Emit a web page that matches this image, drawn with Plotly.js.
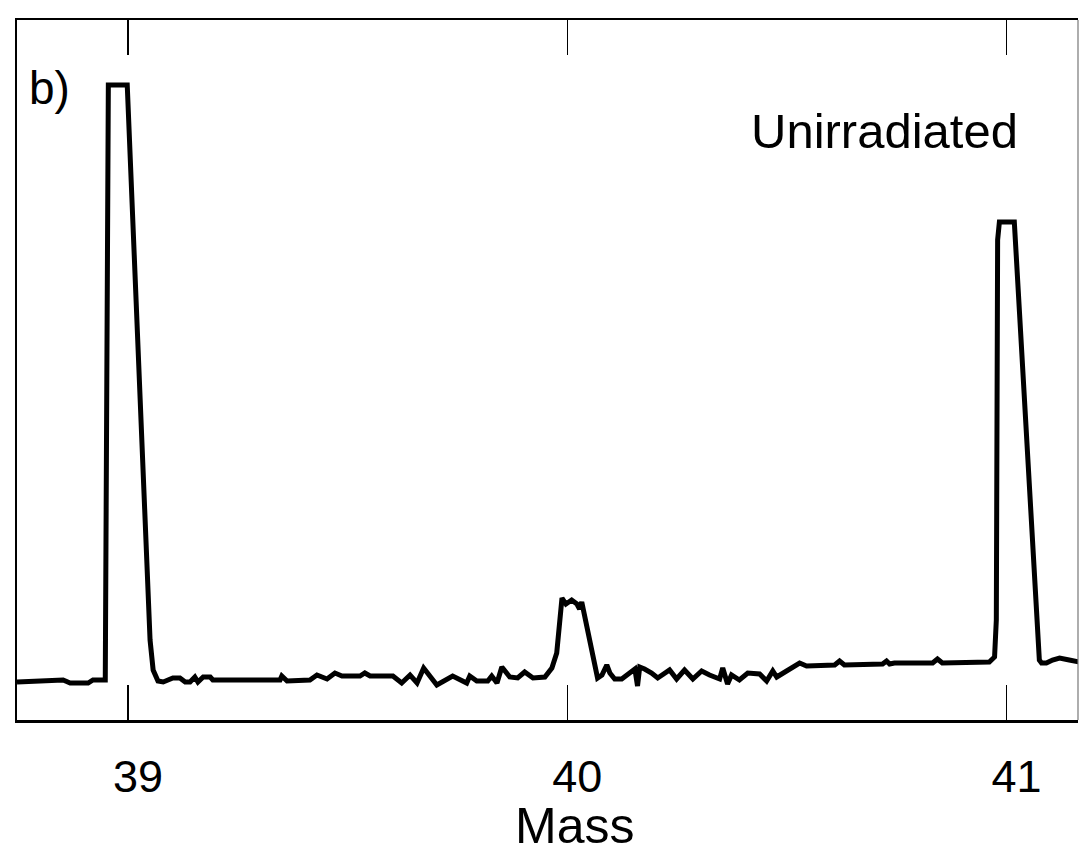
<!DOCTYPE html>
<html>
<head>
<meta charset="utf-8">
<script src="https://cdn.plot.ly/plotly-3.0.1.min.js"></script>
<style>html,body{margin:0;padding:0;background:#fff;}#chart{width:1080px;height:860px;}</style>
</head>
<body>
<div id="chart"></div>
<script>
// Mass spectrum trace (unirradiated)
const mass = [
  38.747, 38.852, 38.868, 38.909, 38.920, 38.936, 38.948, 38.955, 38.998, 39.050,
  39.057, 39.068, 39.080, 39.102, 39.118, 39.130, 39.141, 39.152, 39.159, 39.171,
  39.187, 39.193, 39.346, 39.350, 39.362, 39.414, 39.430, 39.453, 39.471, 39.487,
  39.528, 39.539, 39.551, 39.603, 39.623, 39.642, 39.658, 39.673, 39.703, 39.739,
  39.771, 39.778, 39.794, 39.819, 39.828, 39.840, 39.851, 39.869, 39.887, 39.903,
  39.922, 39.949, 39.965, 39.976, 39.988, 39.997, 40.010, 40.022, 40.028, 40.033,
  40.040, 40.063, 40.069, 40.079, 40.090, 40.097, 40.108, 40.124, 40.154, 40.160,
  40.165, 40.176, 40.192, 40.206, 40.233, 40.249, 40.267, 40.286, 40.306, 40.324,
  40.347, 40.354, 40.365, 40.374, 40.392, 40.411, 40.438, 40.454, 40.468, 40.477,
  40.513, 40.529, 40.545, 40.609, 40.620, 40.631, 40.718, 40.727, 40.734, 40.745,
  40.832, 40.843, 40.854, 40.961, 40.973, 40.977, 40.980, 40.984, 41.018, 41.068,
  41.075, 41.080, 41.091, 41.105, 41.121, 41.143, 41.166
];
const intensity = [
  38, 40, 37, 37, 40, 40, 40, 635, 635, 80,
  50, 39, 38, 42, 42, 38, 38, 43, 38, 43,
  43, 40, 40, 44, 39, 40, 45, 41, 47, 44,
  44, 47, 44, 44, 37, 45, 37, 52, 35, 44,
  37, 44, 39, 39, 44, 37, 53, 43, 42, 48,
  42, 43, 52, 67, 122, 116, 120, 116, 111, 118,
  103, 50, 42, 45, 55, 47, 41, 41, 51, 34,
  53, 51, 47, 42, 50, 41, 50, 41, 49, 45,
  41, 52, 36, 45, 40, 47, 46, 39, 49, 43,
  53, 57, 54, 55, 59, 55, 56, 59, 56, 57,
  57, 61, 57, 58, 63, 100, 480, 498, 498, 100,
  60, 57, 57, 60, 62, 60, 58
];
const tickVals = [39, 40, 41];
const tickText = ["39", "40", "41"];

const FONT = "Liberation Sans, Arial, Helvetica, sans-serif";

const trace = {
  x: mass, y: intensity, type: "scatter", mode: "lines",
  line: {color: "#000", width: 5, shape: "linear"},
  hoverinfo: "skip"
};

const layout = {
  width: 1080, height: 860,
  margin: {l: 17, r: 2, t: 20, b: 140},
  paper_bgcolor: "#fff", plot_bgcolor: "#fff",
  showlegend: false,
  font: {family: FONT, color: "#000"},
  xaxis: {
    range: [38.747, 41.163],
    tickmode: "array", tickvals: tickVals, ticktext: tickText,
    ticks: "inside", ticklen: 35, tickwidth: 1.5, tickcolor: "#000",
    showline: true, linecolor: "#000", linewidth: 2.5, mirror: "ticks",
    showgrid: false, zeroline: false,
    tickfont: {family: FONT, size: 45, color: "#000"},
    ticklabelstandoff: 15, ticklabelshift: 10
  },
  yaxis: {
    range: [0, 700],
    showticklabels: false, ticks: "",
    showline: true, linecolor: "#000", linewidth: 2.5, mirror: false,
    showgrid: false, zeroline: false
  },
  shapes: [
    {type: "line", xref: "paper", yref: "paper", x0: 1, x1: 1, y0: 0, y1: 1,
     line: {color: "#777", width: 1.2}}
  ],
  annotations: [
    {xref: "paper", yref: "paper", x: 0.0094, y: 0.903, xanchor: "left", yanchor: "middle",
     text: "b)", showarrow: false, font: {family: FONT, size: 46, color: "#000"}},
    {xref: "paper", yref: "paper", x: 0.818, y: 0.842, xanchor: "center", yanchor: "middle",
     text: "Unirradiated", showarrow: false, font: {family: FONT, size: 49, color: "#000"}},
    {xref: "paper", yref: "paper", x: 0.525, y: -0.152, xanchor: "center", yanchor: "middle",
     text: "Mass", showarrow: false, font: {family: FONT, size: 50, color: "#000"}}
  ]
};

Plotly.newPlot("chart", [trace], layout, {staticPlot: true, displayModeBar: false});
</script>
</body>
</html>
